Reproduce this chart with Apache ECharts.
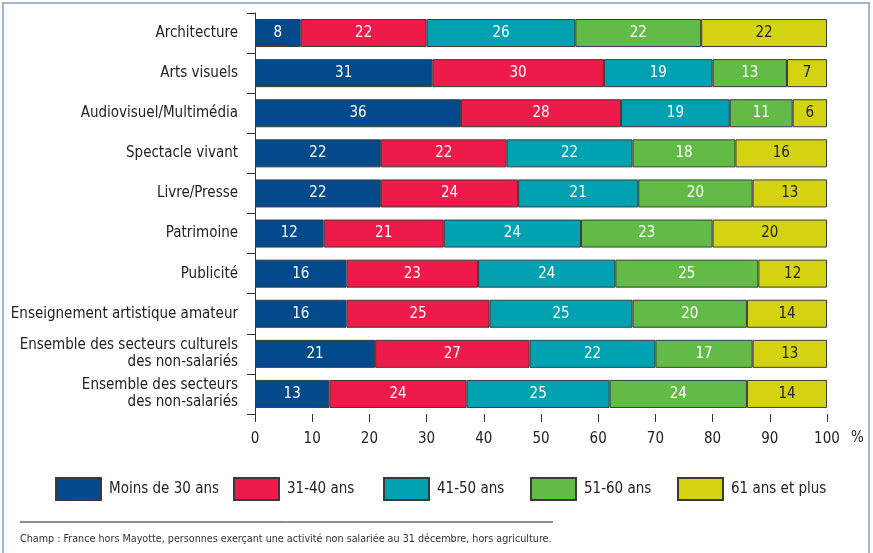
<!DOCTYPE html>
<html><head><meta charset="utf-8">
<script src="https://cdn.jsdelivr.net/npm/echarts@6/dist/echarts.min.js"></script>
<style>html,body{margin:0;padding:0;background:#fff;}#c{width:873px;height:553px;}</style>
</head><body><div id="c"></div>
<script>
const categories = ['Architecture','Arts visuels','Audiovisuel/Multimédia','Spectacle vivant','Livre/Presse','Patrimoine','Publicité','Enseignement artistique amateur','Ensemble des secteurs culturels\ndes non-salariés','Ensemble des secteurs\ndes non-salariés'];
const seriesNames = ['Moins de 30 ans','31-40 ans','41-50 ans','51-60 ans','61 ans et plus'];
const moins30 = [8,31,36,22,22,12,16,16,21,13];
const s31_40 = [22,30,28,22,24,21,23,25,27,24];
const s41_50 = [26,19,19,22,21,24,24,25,22,25];
const s51_60 = [22,13,11,18,20,23,25,20,17,24];
const s61plus = [22,7,6,16,13,20,12,14,13,14];
const xTicks = [0,10,20,30,40,50,60,70,80,90,100];
const footnote = 'Champ : France hors Mayotte, personnes exerçant une activité non salariée au 31 décembre, hors agriculture.';

const FONT = '"Liberation Sans Narrow","DejaVu Sans Condensed",sans-serif';
const colors = ['#024a8c','#ee1a49','#00a2b1','#62ba47','#d4d312'];
const values = [moins30,s31_40,s41_50,s51_60,s61plus];
const legendLeft = [55,233,383,530,677];

const chart = echarts.init(document.getElementById('c'),null,{renderer:'canvas'});
chart.setOption({
  animation:false,
  textStyle:{fontFamily:FONT},
  grid:{left:255,right:46,top:13,bottom:139,containLabel:false},
  xAxis:{type:'value',min:xTicks[0],max:xTicks[xTicks.length-1],interval:10,
    axisLine:{show:false},
    axisTick:{show:true,length:8,lineStyle:{color:'#333'}},
    splitLine:{show:false},
    axisLabel:{margin:18,fontSize:15,color:'#222',fontFamily:FONT}},
  yAxis:{type:'category',data:categories,inverse:true,
    axisLine:{show:true,lineStyle:{color:'#333'}},
    axisTick:{show:true,length:8,lineStyle:{color:'#333'}},
    axisLabel:{margin:17,fontSize:15,color:'#222',fontFamily:FONT,lineHeight:17,align:'right'}},
  legend: seriesNames.map((n,i)=>({
    data:[n],left:legendLeft[i],top:477,padding:0,itemWidth:45,itemHeight:22,icon:'rect',
    textStyle:{fontSize:15,color:'#222',fontFamily:FONT,padding:[0,0,0,3]},
    selectedMode:false
  })),
  series: seriesNames.map((n,i)=>({
    name:n,type:'bar',stack:'t',data:values[i],barWidth:28,
    itemStyle:{color:colors[i],borderColor:'#3a3a3a',borderWidth:1},
    label:{show:true,position:'inside',fontSize:15,fontFamily:FONT,
      color:i===4?'#222':'#fff'}
  })),
  graphic:[
    {type:'rect',shape:{x:3,y:3,width:866,height:560},style:{fill:'none',stroke:'#7f9fc4',lineWidth:1.5},silent:true},
    {type:'text',left:851,top:431,style:{text:'%',fontSize:15,fill:'#222',fontFamily:FONT}},
    {type:'line',shape:{x1:20,y1:522,x2:553,y2:522},style:{stroke:'#222',lineWidth:1}},
    {type:'text',left:20,top:534,style:{text:footnote,fontSize:10.7,fill:'#333',fontFamily:FONT}}
  ]
});
</script></body></html>
